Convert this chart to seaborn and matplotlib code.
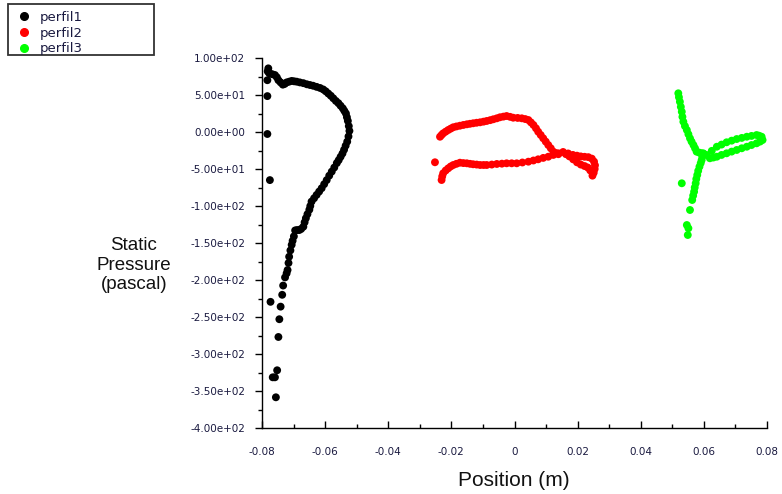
import numpy as np
import pandas as pd
import matplotlib
matplotlib.use("Agg")
import matplotlib.pyplot as plt
from matplotlib.lines import Line2D
from matplotlib.patches import Rectangle
from matplotlib.ticker import MultipleLocator, FuncFormatter
import seaborn as sns

series_names = ["perfil1", "perfil2", "perfil3"]
series_colors = ["#000000", "#ff0000", "#00ff00"]

perfil1_x = [-0.0780, -0.0782, -0.0778, -0.0775, -0.0767, -0.0759, -0.0753, -0.0748, -0.0741, -0.0734,
             -0.0728, -0.0722, -0.0714, -0.0706, -0.0698, -0.0690, -0.0680, -0.0669, -0.0658, -0.0648,
             -0.0638, -0.0627, -0.0616, -0.0606, -0.0598, -0.0590, -0.0582, -0.0574, -0.0566, -0.0558,
             -0.0551, -0.0544, -0.0539, -0.0534, -0.0531, -0.0528, -0.0525, -0.0523,
             -0.0526, -0.0530, -0.0535, -0.0540, -0.0545, -0.0551, -0.0557, -0.0563, -0.0571, -0.0579,
             -0.0587, -0.0595, -0.0603, -0.0611, -0.0619, -0.0627, -0.0635, -0.0643, -0.0647, -0.0650,
             -0.0656, -0.0661, -0.0665, -0.0669, -0.0676, -0.0682, -0.0689, -0.0695, -0.0699, -0.0703,
             -0.0706, -0.0710, -0.0714, -0.0716, -0.0719, -0.0722, -0.0727, -0.0733,
             -0.0736, -0.0741, -0.0745, -0.0748, -0.0752, -0.0759, -0.0766, -0.0756,
             -0.0783, -0.0783, -0.0783, -0.0775, -0.0773]
perfil1_y = [86, 82, 80, 79, 78, 77, 74, 70, 67, 64,
             65, 67, 68, 69, 68.5, 68, 67, 66, 64.5, 63.5,
             62.5, 61, 59.5, 57.5, 55, 52, 49, 45.5, 42, 39,
             35.5, 32, 28.5, 25, 20, 15, 8, 1.5,
             -6, -13, -18.5, -24, -29, -33.5, -38, -42, -48, -53.5,
             -59, -65, -70.5, -76, -80.5, -85, -89.5, -94, -100, -105,
             -111, -116.5, -122, -128, -131, -132.5, -132.5, -133, -141, -147,
             -152.5, -160, -168.5, -177, -186.5, -191, -196.5, -207.5,
             -220, -236, -253, -277, -322, -331.5, -331.5, -358.5,
             70, 48.5, -2.7, -65, -229.5]

perfil2_x = [-0.0236, -0.0231, -0.0226, -0.0218, -0.0210, -0.0202, -0.0194, -0.0184, -0.0173, -0.0162,
             -0.0151, -0.0141, -0.0131, -0.0120, -0.0109, -0.0098, -0.0088, -0.0077, -0.0067, -0.0056,
             -0.0046, -0.0035, -0.0025, -0.0014, -0.0004, 0.0010, 0.0023, 0.0034, 0.0044, 0.0052,
             0.0060, 0.0068, 0.0075, 0.0083, 0.0091, 0.0099, 0.0107, 0.0115, 0.0123, 0.0131, 0.0139,
             0.0154, 0.0170, 0.0185, 0.0198, 0.0210, 0.0222, 0.0234, 0.0245, 0.0252, 0.0255,
             0.0254, 0.0251, 0.0247, 0.0240, 0.0232, 0.0222, 0.0210, 0.0198, 0.0186, 0.0174, 0.0163,
             -0.0231, -0.0229, -0.0226, -0.0218, -0.0210, -0.0202, -0.0194, -0.0184, -0.0173, -0.0162,
             -0.0151, -0.0141, -0.0131, -0.0120, -0.0109, -0.0098, -0.0088, -0.0072, -0.0056, -0.0040,
             -0.0025, -0.0009, 0.0007, 0.0025, 0.0044, 0.0060, 0.0075, 0.0091, 0.0107, 0.0123, 0.0139,
             -0.0252]
perfil2_y = [-6.4, -4, -1.8, 0.5, 2.7, 4.6, 6.4, 7.5, 8.5, 9.5,
             10.4, 11.1, 11.8, 12.5, 13.1, 14, 14.9, 16, 17.2, 18.5,
             19.9, 20.8, 21.6, 20.5, 19.3, 19, 18.5, 17.5, 16.2, 13,
             9.5, 5, 0.4, -4, -8.5, -13, -17.6, -22, -26.6, -28.5, -30,
             -27, -29, -31, -32, -33, -33.5, -34, -36, -40, -45,
             -50, -55, -59, -52, -48, -46, -44, -41, -37, -33, -30,
             -64.9, -60, -55.8, -52, -49.1, -46.5, -44.6, -43, -41.5, -42,
             -42.3, -43, -43.6, -44, -44.6, -44.6, -44.6, -44, -43.2, -42.8,
             -42.3, -42.3, -42.3, -41.2, -40.1, -38.5, -36.9, -35, -33.4, -31, -28.8,
             -40.9]

perfil3_x = [0.0519, 0.0521, 0.0524, 0.0527, 0.0530, 0.0532, 0.0535, 0.0540, 0.0546, 0.0551,
             0.0556, 0.0561, 0.0567, 0.0572, 0.0577, 0.0585, 0.0593, 0.0601, 0.0609,
             0.0625, 0.0641, 0.0656, 0.0672, 0.0688, 0.0704, 0.0720, 0.0736, 0.0751, 0.0767,
             0.0775, 0.0783, 0.0786,
             0.0778, 0.0767, 0.0751, 0.0736, 0.0720, 0.0704, 0.0688, 0.0672, 0.0656, 0.0641,
             0.0630, 0.0619,
             0.0598, 0.0595, 0.0593, 0.0590, 0.0586, 0.0582, 0.0579, 0.0576, 0.0574, 0.0571,
             0.0569, 0.0566, 0.0563, 0.0556, 0.0546, 0.0551, 0.0549,
             0.0530]
perfil3_y = [52.3, 47, 40.9, 34, 27.4, 20.5, 13.9, 8, 2.7, -3,
             -8.5, -13, -17.6, -22, -26.6, -27.8, -28.8, -30, -31.1,
             -25.5, -19.9, -17, -13.9, -11.7, -9.5, -8, -6.4, -5.3, -4.1,
             -5, -6.4, -10.8,
             -13, -15.3, -17.6, -19.9, -22, -24.3, -26.5, -28.8, -31, -33.4,
             -34.5, -35.5,
             -28.8, -33, -37.8, -42, -46.9, -52.5, -58.1, -63.5, -69.3, -75,
             -80.7, -86, -91.9, -105.4, -125.7, -130.1, -139.2,
             -69.3]

x_ticks = [-0.08, -0.06, -0.04, -0.02, 0, 0.02, 0.04, 0.06, 0.08]
x_tick_labels = ["-0.08", "-0.06", "-0.04", "-0.02", "0", "0.02", "0.04", "0.06", "0.08"]
y_ticks = [100, 50, 0, -50, -100, -150, -200, -250, -300, -350, -400]

xs = [perfil1_x, perfil2_x, perfil3_x]
ys = [perfil1_y, perfil2_y, perfil3_y]
frames = []
for name, xv, yv in zip(series_names, xs, ys):
    frames.append(pd.DataFrame({"Position": xv, "Pressure": yv, "series": name}))
df = pd.concat(frames, ignore_index=True)

sns.set_theme(style="white")
plt.rcParams["font.family"] = ["Liberation Sans", "DejaVu Sans"]

W, H = 782, 494
fig = plt.figure(figsize=(W / 100, H / 100), dpi=100)
ax = fig.add_axes([262 / W, 1 - 428 / H, (767 - 262) / W, (428 - 58) / H])

palette = dict(zip(series_names, series_colors))
sns.scatterplot(data=df, x="Position", y="Pressure", hue="series", palette=palette,
                s=32, linewidth=0, legend=False, ax=ax)

ax.set_xlim(-0.08, 0.08)
ax.set_ylim(-400, 100)
ax.set_xticks(x_ticks)
ax.set_xticklabels(x_tick_labels)
ax.set_yticks(y_ticks)
ax.yaxis.set_major_formatter(FuncFormatter(lambda v, p: "{:.2e}".format(v)))
ax.xaxis.set_minor_locator(MultipleLocator(0.01))
ax.yaxis.set_minor_locator(MultipleLocator(25))

tick_color = "#1a1a40"
ax.tick_params(axis="y", which="major", direction="out", length=5, width=1, color="black",
               labelsize=7.5, labelcolor=tick_color, pad=7, left=True)
ax.tick_params(axis="y", which="minor", direction="out", length=3, width=1, color="black", left=True)
ax.tick_params(axis="x", which="major", direction="in", length=5, width=1, color="black",
               labelsize=7.5, labelcolor=tick_color, pad=14, bottom=True)
ax.tick_params(axis="x", which="minor", direction="in", length=3, width=1, color="black", bottom=True)
for lab in ax.get_xticklabels() + ax.get_yticklabels():
    lab.set_fontfamily("DejaVu Sans")

for side in ["top", "right"]:
    ax.spines[side].set_visible(False)
for side in ["left", "bottom"]:
    ax.spines[side].set_color("black")
    ax.spines[side].set_linewidth(1)
ax.grid(False)
ax.set_xlabel("")
ax.set_ylabel("")

fig.text(514 / W, 1 - 480 / H, "Position (m)", ha="center", va="center", fontsize=15, color="#111111")
fig.text(134 / W, 1 - 265 / H, "Static\nPressure\n(pascal)", ha="center", va="center",
         fontsize=13.5, color="#111111", linespacing=1.2)

# legend: entries without frame, plus a separate square frame box
handles = [Line2D([0], [0], marker="o", linestyle="none", markersize=5.5,
                  markerfacecolor=c, markeredgecolor=c) for c in series_colors]
leg = fig.legend(handles, series_names, loc="upper left",
                 bbox_to_anchor=(15 / W, 1 - 11 / H), bbox_transform=fig.transFigure,
                 borderaxespad=0, borderpad=0, frameon=False,
                 prop={"family": "DejaVu Sans", "size": 9.5}, labelspacing=0.2,
                 handlelength=1.3, handletextpad=0.55, labelcolor=tick_color)
fig.add_artist(Rectangle((8 / W, 1 - 55 / H), 146 / W, 51 / H, transform=fig.transFigure,
                         fill=False, edgecolor="#333333", linewidth=1.3))

fig.savefig("out.png", dpi=100)
